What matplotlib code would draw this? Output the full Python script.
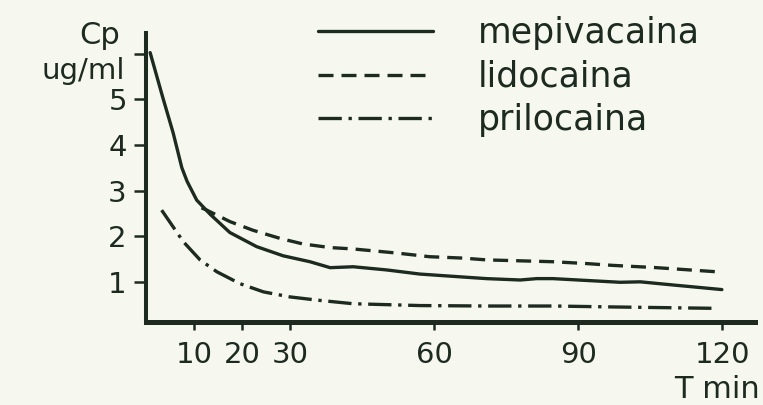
import matplotlib
matplotlib.use("Agg")
import matplotlib.pyplot as plt

# concentrazione plasmatica (ug/ml) vs tempo (min)
mepi_t = [0.8, 3.4, 5.6, 7.4, 8.5, 10.5, 13.3, 17.4, 23.0, 28.5, 34.1, 38.3, 43.1, 50.1,
          57.0, 63.9, 70.9, 77.9, 81.3, 84.7, 91.7, 98.7, 102.9, 109.8, 119.9]
mepi_c = [6.02, 5.05, 4.26, 3.50, 3.20, 2.79, 2.48, 2.08, 1.77, 1.57, 1.44, 1.31, 1.33, 1.26,
          1.17, 1.12, 1.07, 1.04, 1.07, 1.07, 1.03, 0.99, 1.00, 0.93, 0.83]

lido_t = [11.5, 12.6, 17.4, 22.2, 27.9, 32.6, 38.3, 43.1, 52.2, 59.0, 65.9, 70.9, 77.9,
          84.7, 91.7, 97.2, 106.3, 118.8]
lido_c = [2.62, 2.57, 2.32, 2.13, 1.95, 1.83, 1.75, 1.72, 1.63, 1.55, 1.52, 1.48, 1.46,
          1.44, 1.40, 1.36, 1.31, 1.22]

prilo_t = [3.2, 7.7, 11.2, 14.7, 19.5, 24.4, 29.9, 35.5, 43.1, 57.0, 71.0, 85.0, 97.0, 118.0]
prilo_c = [2.57, 1.88, 1.48, 1.22, 0.96, 0.78, 0.67, 0.60, 0.52, 0.48, 0.47, 0.47, 0.45, 0.42]

x_ticks = [10, 20, 30, 60, 90, 120]
y_ticks = [1, 2, 3, 4, 5, 6]
y_labels = ["1", "2", "3", "4", "5", ""]

ink = "#1d2a20"
paper = "#f6f8f0"
fs_tick = 21
fs_text = 22
fs_leg = 25

plt.rcParams['font.family'] = ['DejaVu Sans']

fig = plt.figure(figsize=(7.63, 4.05), dpi=100, facecolor=paper)
ax = fig.add_axes([146.3 / 763, 1 - 322 / 405, (755 - 146.3) / 763, (322 - 33) / 405])
ax.set_facecolor(paper)

lw = 2.4
ax.plot(mepi_t, mepi_c, color=ink, lw=lw, solid_capstyle='round', label='mepivacaina')
ax.plot(lido_t, lido_c, color=ink, lw=lw, linestyle=(0, (4.5, 2.4)), label='lidocaina')
ax.plot(prilo_t, prilo_c, color=ink, lw=lw, linestyle=(0, (7, 2, 1, 2)), label='prilocaina')

ax.set_xlim(0, 126.8)
ax.set_ylim(0.12, 6.45)

for s in ['top', 'right']:
    ax.spines[s].set_visible(False)
ax.spines['left'].set_linewidth(2.9)
ax.spines['bottom'].set_linewidth(3.6)
ax.spines['left'].set_color(ink)
ax.spines['bottom'].set_color(ink)

ax.set_xticks(x_ticks)
ax.set_xticklabels([str(v) for v in x_ticks])
ax.set_yticks(y_ticks)
ax.set_yticklabels(y_labels)
ax.tick_params(axis='y', direction='out', length=9, width=1.8, color=ink,
               labelcolor=ink, labelsize=fs_tick, pad=5)
ax.tick_params(axis='x', direction='out', length=6, width=1.8, color=ink,
               labelcolor=ink, labelsize=fs_tick, pad=8)

fig.text(120 / 763, 1 - 36 / 405, "Cp", ha='right', va='center', fontsize=fs_text, color=ink)
fig.text(125 / 763, 1 - 71 / 405, "ug/ml", ha='right', va='center', fontsize=fs_text - 1, color=ink)
fig.text(760 / 763, 7 / 405, "T min", ha='right', va='baseline', fontsize=fs_text, color=ink)

leg = ax.legend(loc='upper left', bbox_to_anchor=(318 / 763, 1 - 16 / 405),
                bbox_transform=fig.transFigure, frameon=False, fontsize=fs_leg,
                handlelength=3.3, handletextpad=1.3, labelspacing=0.28, borderpad=0,
                borderaxespad=0)
for t in leg.get_texts():
    t.set_color(ink)

fig.savefig("out.png", dpi=100, facecolor=paper)
